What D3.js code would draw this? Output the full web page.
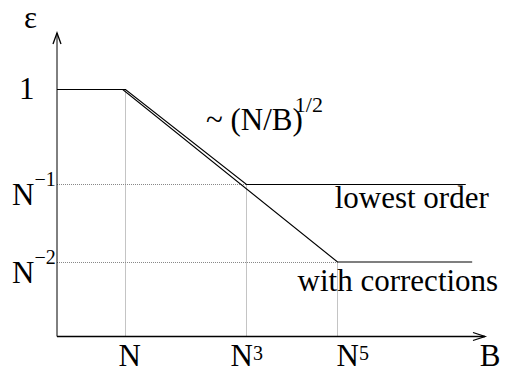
<!DOCTYPE html>
<html>
<head>
<meta charset="utf-8">
<script src="https://cdn.jsdelivr.net/npm/d3@7"></script>
</head>
<body style="margin:0">
<div id="chart"></div>
<script>
// x values are powers of N along B, y values are powers of N along epsilon
var lowestOrder = [[0, 0], [1, 0], [3, -1], [7, -1]];
var withCorrections = [[0, 0], [0.96, 0], [5, -2], [7.1, -2]];

var xTickValues = [1, 3, 5];
var xTickBase = ["N", "N", "N"];
var xTickExp = ["", "3", "5"];

var yTickValues = [0, -1, -2];
var yTickBase = ["1", "N", "N"];
var yTickExp = ["", "\u22121", "\u22122"];

// dotted guides: vertical at [x, y top], horizontal at [y, x end]
var guideV = [[1, 0], [3, -1], [5, -2]];
var guideH = [[-1, 3], [-2, 5]];

var width = 506, height = 369;
var serif = "Liberation Serif";

// the drawing is not a true log plot, so the scales are piecewise
var x = d3.scaleLinear()
    .domain([0, 1, 3, 5, 7.3])
    .range([57, 125.5, 246.5, 337.5, 485]);
var y = d3.scaleLinear()
    .domain([-2.96, -2, -1, 0, 0.6])
    .range([336.5, 262, 184.5, 89.5, 33]);

var svg = d3.select("#chart").append("svg")
    .attr("width", width)
    .attr("height", height)
    .attr("font-family", serif);

// dotted guides
svg.selectAll(".gv")
    .data(guideV)
  .enter().append("line")
    .attr("x1", function(d) { return x(d[0]); })
    .attr("x2", function(d) { return x(d[0]); })
    .attr("y1", y(y.domain()[0]))
    .attr("y2", function(d) { return y(d[1]); })
    .attr("stroke", "#888")
    .attr("stroke-width", 1)
    .attr("stroke-dasharray", "1,1");

svg.selectAll(".gh")
    .data(guideH)
  .enter().append("line")
    .attr("y1", function(d) { return y(d[0]) + (d[0] == -1 ? 0 : 0.5); })
    .attr("y2", function(d) { return y(d[0]) + (d[0] == -1 ? 0 : 0.5); })
    .attr("x1", x(0))
    .attr("x2", function(d) { return x(d[1]); })
    .attr("stroke", "#888")
    .attr("stroke-width", 1)
    .attr("stroke-dasharray", "1,1");

// curves
var line = d3.line()
    .x(function(d) { return x(d[0]); })
    .y(function(d) { return y(d[1]); });

svg.append("path")
    .datum(withCorrections)
    .attr("d", line)
    .attr("fill", "none")
    .attr("stroke", "#000")
    .attr("stroke-width", 1.2);

svg.append("path")
    .datum(lowestOrder)
    .attr("d", line)
    .attr("fill", "none")
    .attr("stroke", "#000")
    .attr("stroke-width", 1.2);

// axes with open arrow heads
var x0 = x(0), yb = y.range()[0], xe = x.range()[4], yt = y.range()[4];

svg.append("line")
    .attr("x1", x0).attr("x2", x0)
    .attr("y1", yb).attr("y2", yt)
    .attr("stroke", "#000").attr("stroke-width", 1);
svg.append("path")
    .attr("d", "M" + (x0 - 4) + "," + (yt + 11) + "L" + x0 + "," + yt + "L" + (x0 + 4) + "," + (yt + 11))
    .attr("fill", "none").attr("stroke", "#000").attr("stroke-width", 1.3);

svg.append("line")
    .attr("x1", x0).attr("x2", xe)
    .attr("y1", yb).attr("y2", yb)
    .attr("stroke", "#000").attr("stroke-width", 1.3);
svg.append("path")
    .attr("d", "M" + (xe - 12) + "," + (yb - 4) + "L" + xe + "," + yb + "L" + (xe - 12) + "," + (yb + 4))
    .attr("fill", "none").attr("stroke", "#000").attr("stroke-width", 1.3);

// tick labels
var xl = svg.selectAll(".xl")
    .data(xTickValues)
  .enter().append("text")
    .attr("x", function(d, i) { return x(d) + [-7, -16, -1][i]; })
    .attr("y", 366)
    .attr("font-family", serif)
    .attr("font-size", 31);
xl.append("tspan").text(function(d, i) { return xTickBase[i]; });
xl.append("tspan")
    .attr("dy", -6)
    .attr("font-size", 20)
    .text(function(d, i) { return xTickExp[i]; });

var yl = svg.selectAll(".yl")
    .data(yTickValues)
  .enter().append("text")
    .attr("x", function(d, i) { return i == 0 ? 19 : 12; })
    .attr("y", function(d, i) { return y(d) + (i == 0 ? 9 : 20.5); })
    .attr("font-family", serif)
    .attr("font-size", 31);
yl.append("tspan").text(function(d, i) { return yTickBase[i]; });
yl.append("tspan")
    .attr("dy", -19)
    .attr("font-size", 20)
    .text(function(d, i) { return yTickExp[i]; });

// axis titles
svg.append("text")
    .attr("x", 24).attr("y", 28)
    .attr("font-family", serif)
    .attr("font-size", 31)
    .text("\u03b5");
svg.append("text")
    .attr("x", xe + 5).attr("y", 366)
    .attr("text-anchor", "middle")
    .attr("font-family", serif)
    .attr("font-size", 31)
    .text("B");

// annotations
var slope = svg.append("text")
    .attr("x", 206).attr("y", 130)
    .attr("font-family", serif)
    .attr("font-size", 31);
slope.append("tspan").text("~ (N/B)");
slope.append("tspan")
    .attr("dx", -8).attr("dy", -18)
    .attr("font-size", 22)
    .text("1/2");

svg.append("text")
    .attr("x", x(7) + 23).attr("y", y(-1) + 23)
    .attr("text-anchor", "end")
    .attr("font-family", serif)
    .attr("font-size", 31)
    .text("lowest order");

svg.append("text")
    .attr("x", x(7.1) + 26).attr("y", y(-2) + 29)
    .attr("text-anchor", "end")
    .attr("font-family", serif)
    .attr("font-size", 31)
    .text("with corrections");
</script>
</body>
</html>
